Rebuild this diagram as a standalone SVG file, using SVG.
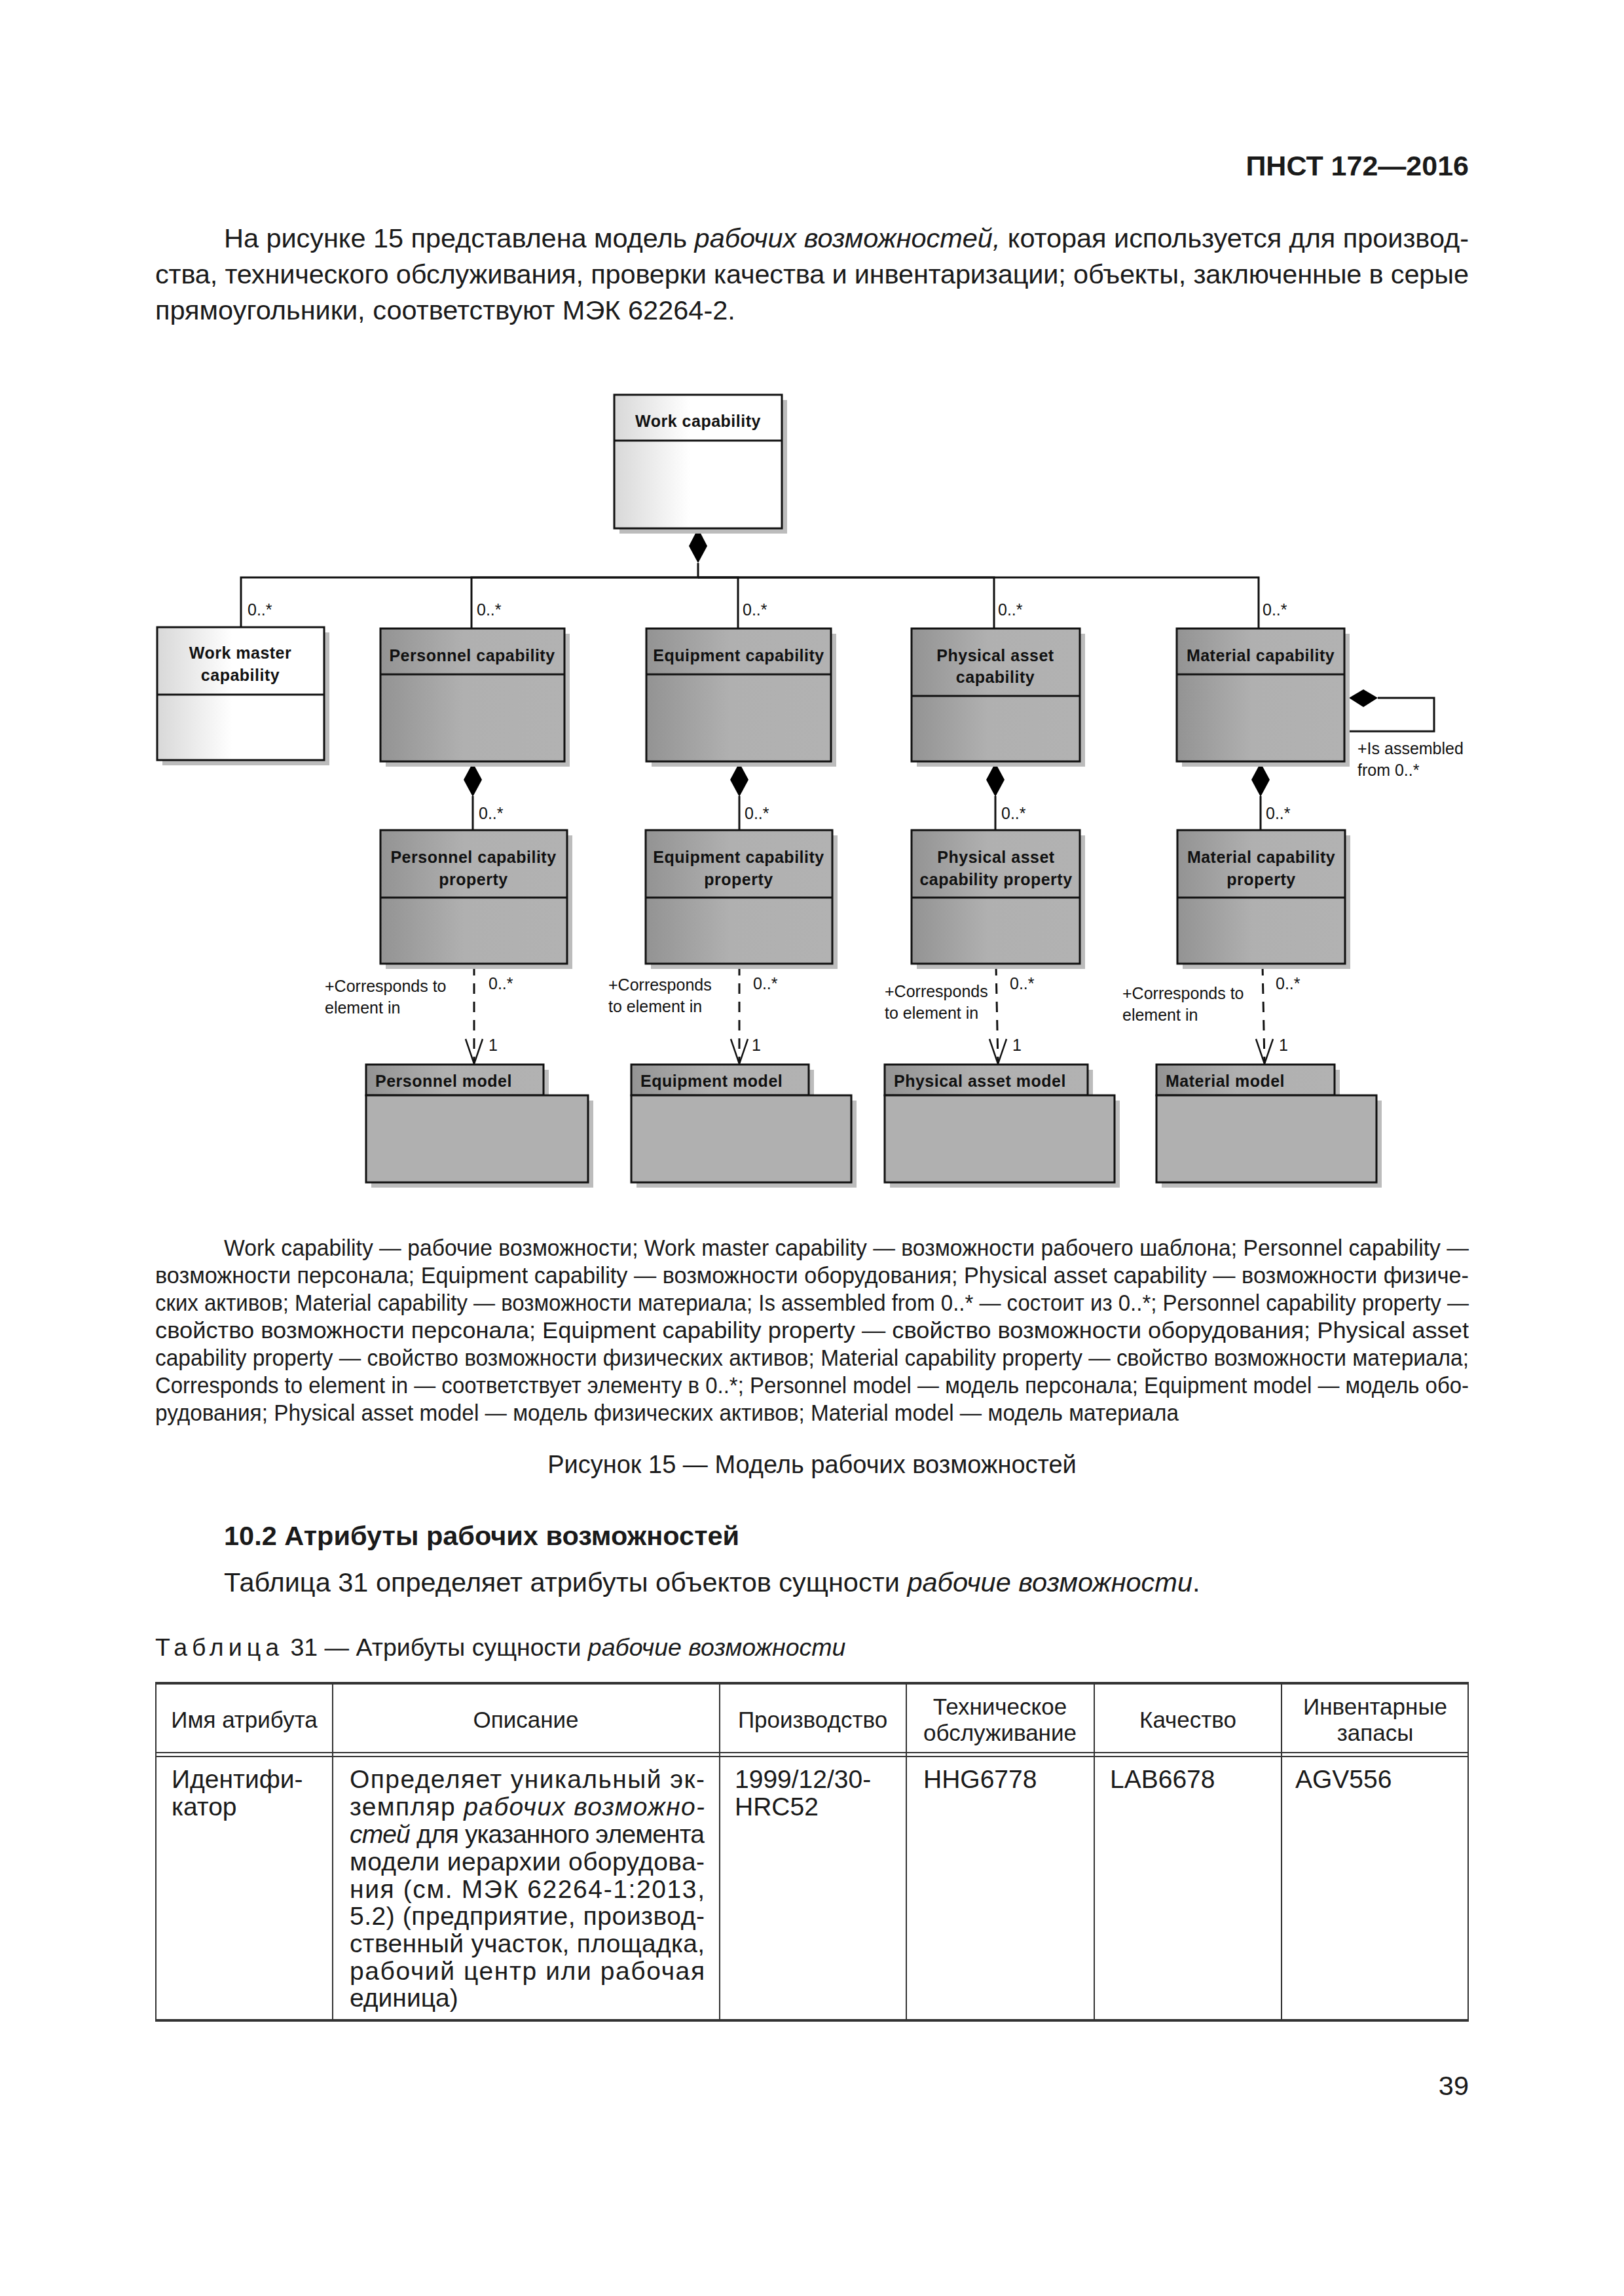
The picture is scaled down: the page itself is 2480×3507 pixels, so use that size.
<svg xmlns="http://www.w3.org/2000/svg" width="2480" height="3507" viewBox="0 0 2480 3507">
<defs>
<linearGradient id="gLight" x1="0" y1="0" x2="1" y2="0">
<stop offset="0" stop-color="#d8d8d8"/><stop offset="0.45" stop-color="#ffffff"/><stop offset="1" stop-color="#ffffff"/>
</linearGradient>
<linearGradient id="gGray" x1="0" y1="0" x2="1" y2="0">
<stop offset="0" stop-color="#939393"/><stop offset="0.45" stop-color="#b0b0b0"/><stop offset="1" stop-color="#b2b2b2"/>
</linearGradient>
</defs>
<style>
.t{font-family:"Liberation Sans",Arial,sans-serif;fill:#1a1a1a}
.body{font-size:41.5px}
.fig{font-size:38px}
.cap{font-size:35px}
.tcap{font-size:37.5px}
.th{font-size:35px}
.td{font-size:39px}
.it{font-style:italic}
.b{font-weight:bold}
.cn{font-family:"Liberation Sans",Arial,sans-serif;font-size:25px;font-weight:bold;fill:#111;letter-spacing:0.5px}
.lb{font-family:"Liberation Sans",Arial,sans-serif;font-size:25px;fill:#111}
.box{stroke:#111;stroke-width:3}
.sh{fill:#bcbcbc}
.ln{stroke:#111;stroke-width:3;fill:none}
.arr{stroke:#111;stroke-width:2.5;fill:none}
.dash{stroke:#111;stroke-width:3;fill:none;stroke-dasharray:16 12}
.dia{fill:#000}
.tl{stroke:#333;stroke-width:2;fill:none}
.tk{stroke:#333;stroke-width:4;fill:none}
</style>
<rect width="2480" height="3507" fill="#fff"/>

<!-- Page header -->
<text class="t b" x="2243" y="268" font-size="43" text-anchor="end">ПНСТ 172—2016</text>

<!-- Intro paragraph -->
<text class="t body" x="342" y="378" textLength="1901" lengthAdjust="spacing">На рисунке 15 представлена модель <tspan class="it">рабочих возможностей,</tspan> которая используется для производ-</text>
<text class="t body" x="237" y="433" textLength="2006" lengthAdjust="spacing">ства, технического обслуживания, проверки качества и инвентаризации; объекты, заключенные в серые</text>
<text class="t body" x="237" y="488">прямоугольники, соответствуют МЭК 62264-2.</text>

<!-- Connectors -->
<g id="connectors">
<path class="ln" d="M1066,860 V882 H368 V958"/>
<path class="ln" d="M1066,882 H720 V960"/>
<path class="ln" d="M1066,882 H1127 V960"/>
<path class="ln" d="M1066,882 H1518 V960"/>
<path class="ln" d="M1066,882 H1922 V960"/>
<polygon class="dia" points="1066,807 1080,834 1066,860 1052,834"/>
<text class="lb" x="378" y="940">0..*</text>
<text class="lb" x="728" y="940">0..*</text>
<text class="lb" x="1134" y="940">0..*</text>
<text class="lb" x="1524" y="940">0..*</text>
<text class="lb" x="1928" y="940">0..*</text>

<!-- composition to properties -->
<path class="ln" d="M722,1216 V1268"/>
<polygon class="dia" points="722,1165 736,1191 722,1217 708,1191"/>
<text class="lb" x="731" y="1251">0..*</text>
<path class="ln" d="M1129,1216 V1268"/>
<polygon class="dia" points="1129,1165 1143,1191 1129,1217 1115,1191"/>
<text class="lb" x="1137" y="1251">0..*</text>
<path class="ln" d="M1520,1216 V1268"/>
<polygon class="dia" points="1520,1165 1534,1191 1520,1217 1506,1191"/>
<text class="lb" x="1529" y="1251">0..*</text>
<path class="ln" d="M1925,1216 V1268"/>
<polygon class="dia" points="1925,1165 1939,1191 1925,1217 1911,1191"/>
<text class="lb" x="1933" y="1251">0..*</text>

<!-- self loop -->
<polygon class="dia" points="2060,1066 2082,1053 2104,1066 2082,1080"/>
<path class="ln" d="M2104,1066 H2190 V1117 H2060"/>
<text class="lb" x="2073" y="1152">+Is assembled</text>
<text class="lb" x="2073" y="1185">from 0..*</text>

<!-- dependencies -->
<path class="dash" d="M724,1474 V1624"/>
<path class="arr" d="M711,1587 L724,1625 L737,1587"/>
<text class="lb" x="746" y="1511">0..*</text>
<text class="lb" x="746" y="1605">1</text>
<text class="lb" x="496" y="1515">+Corresponds to</text>
<text class="lb" x="496" y="1548">element in</text>

<path class="dash" d="M1129,1474 V1624"/>
<path class="arr" d="M1116,1587 L1129,1625 L1142,1587"/>
<text class="lb" x="1150" y="1511">0..*</text>
<text class="lb" x="1148" y="1605">1</text>
<text class="lb" x="929" y="1513">+Corresponds</text>
<text class="lb" x="929" y="1546">to element in</text>

<path class="dash" d="M1521,1474 L1524,1624"/>
<path class="arr" d="M1511,1587 L1524,1625 L1537,1587"/>
<text class="lb" x="1542" y="1511">0..*</text>
<text class="lb" x="1546" y="1605">1</text>
<text class="lb" x="1351" y="1523">+Corresponds</text>
<text class="lb" x="1351" y="1556">to element in</text>

<path class="dash" d="M1928,1474 L1931,1624"/>
<path class="arr" d="M1918,1587 L1931,1625 L1944,1587"/>
<text class="lb" x="1948" y="1511">0..*</text>
<text class="lb" x="1953" y="1605">1</text>
<text class="lb" x="1714" y="1526">+Corresponds to</text>
<text class="lb" x="1714" y="1559">element in</text>
</g>

<!-- Nodes -->
<g id="work-capability">
<rect class="sh" x="946" y="611" width="256" height="204"/>
<rect class="box" x="938" y="603" width="256" height="204" fill="url(#gLight)"/>
<line class="box" x1="938" y1="673" x2="1194" y2="673"/>
<text class="cn" x="1066" y="652" text-anchor="middle">Work capability</text>
</g>

<g id="work-master-capability">
<rect class="sh" x="248" y="966" width="255" height="203"/>
<rect class="box" x="240" y="958" width="255" height="203" fill="url(#gLight)"/>
<line class="box" x1="240" y1="1061" x2="495" y2="1061"/>
<text class="cn" x="367" y="1006" text-anchor="middle">Work master</text>
<text class="cn" x="367" y="1040" text-anchor="middle">capability</text>
</g>

<g id="personnel-capability">
<rect class="sh" x="589" y="968" width="281" height="203"/>
<rect class="box" x="581" y="960" width="281" height="203" fill="url(#gGray)"/>
<line class="box" x1="581" y1="1030" x2="862" y2="1030"/>
<text class="cn" x="721" y="1010" text-anchor="middle">Personnel capability</text>
</g>

<g id="equipment-capability">
<rect class="sh" x="995" y="968" width="282" height="203"/>
<rect class="box" x="987" y="960" width="282" height="203" fill="url(#gGray)"/>
<line class="box" x1="987" y1="1030" x2="1269" y2="1030"/>
<text class="cn" x="1128" y="1010" text-anchor="middle">Equipment capability</text>
</g>

<g id="physical-asset-capability">
<rect class="sh" x="1400" y="968" width="257" height="203"/>
<rect class="box" x="1392" y="960" width="257" height="203" fill="url(#gGray)"/>
<line class="box" x1="1392" y1="1063" x2="1649" y2="1063"/>
<text class="cn" x="1520" y="1010" text-anchor="middle">Physical asset</text>
<text class="cn" x="1520" y="1043" text-anchor="middle">capability</text>
</g>

<g id="material-capability">
<rect class="sh" x="1805" y="968" width="256" height="203"/>
<rect class="box" x="1797" y="960" width="256" height="203" fill="url(#gGray)"/>
<line class="box" x1="1797" y1="1030" x2="2053" y2="1030"/>
<text class="cn" x="1925" y="1010" text-anchor="middle">Material capability</text>
</g>

<g id="personnel-capability-property">
<rect class="sh" x="589" y="1276" width="285" height="204"/>
<rect class="box" x="581" y="1268" width="285" height="204" fill="url(#gGray)"/>
<line class="box" x1="581" y1="1371" x2="866" y2="1371"/>
<text class="cn" x="723" y="1318" text-anchor="middle">Personnel capability</text>
<text class="cn" x="723" y="1352" text-anchor="middle">property</text>
</g>

<g id="equipment-capability-property">
<rect class="sh" x="994" y="1276" width="285" height="204"/>
<rect class="box" x="986" y="1268" width="285" height="204" fill="url(#gGray)"/>
<line class="box" x1="986" y1="1371" x2="1271" y2="1371"/>
<text class="cn" x="1128" y="1318" text-anchor="middle">Equipment capability</text>
<text class="cn" x="1128" y="1352" text-anchor="middle">property</text>
</g>

<g id="physical-asset-capability-property">
<rect class="sh" x="1400" y="1276" width="257" height="204"/>
<rect class="box" x="1392" y="1268" width="257" height="204" fill="url(#gGray)"/>
<line class="box" x1="1392" y1="1371" x2="1649" y2="1371"/>
<text class="cn" x="1521" y="1318" text-anchor="middle">Physical asset</text>
<text class="cn" x="1521" y="1352" text-anchor="middle">capability property</text>
</g>

<g id="material-capability-property">
<rect class="sh" x="1806" y="1276" width="256" height="204"/>
<rect class="box" x="1798" y="1268" width="256" height="204" fill="url(#gGray)"/>
<line class="box" x1="1798" y1="1371" x2="2054" y2="1371"/>
<text class="cn" x="1926" y="1318" text-anchor="middle">Material capability</text>
<text class="cn" x="1926" y="1352" text-anchor="middle">property</text>
</g>

<g id="personnel-model">
<rect class="sh" x="567" y="1634" width="271" height="47"/>
<rect class="sh" x="567" y="1681" width="339" height="133"/>
<rect class="box" x="559" y="1626" width="271" height="47" fill="url(#gGray)"/>
<rect class="box" x="559" y="1673" width="339" height="133" fill="#b0b0b0"/>
<text class="cn" x="573" y="1660">Personnel model</text>
</g>

<g id="equipment-model">
<rect class="sh" x="972" y="1634" width="271" height="47"/>
<rect class="sh" x="972" y="1681" width="336" height="133"/>
<rect class="box" x="964" y="1626" width="271" height="47" fill="url(#gGray)"/>
<rect class="box" x="964" y="1673" width="336" height="133" fill="#b0b0b0"/>
<text class="cn" x="978" y="1660">Equipment model</text>
</g>

<g id="physical-asset-model">
<rect class="sh" x="1359" y="1634" width="310" height="47"/>
<rect class="sh" x="1359" y="1681" width="351" height="133"/>
<rect class="box" x="1351" y="1626" width="310" height="47" fill="url(#gGray)"/>
<rect class="box" x="1351" y="1673" width="351" height="133" fill="#b0b0b0"/>
<text class="cn" x="1365" y="1660">Physical asset model</text>
</g>

<g id="material-model">
<rect class="sh" x="1774" y="1634" width="272" height="47"/>
<rect class="sh" x="1774" y="1681" width="336" height="133"/>
<rect class="box" x="1766" y="1626" width="272" height="47" fill="url(#gGray)"/>
<rect class="box" x="1766" y="1673" width="336" height="133" fill="#b0b0b0"/>
<text class="cn" x="1780" y="1660">Material model</text>
</g>

<!-- Legend -->
<text class="t cap" x="342" y="1918" textLength="1901" lengthAdjust="spacingAndGlyphs">Work capability — рабочие возможности; Work master capability — возможности рабочего шаблона; Personnel capability —</text>
<text class="t cap" x="237" y="1960" textLength="2006" lengthAdjust="spacingAndGlyphs">возможности персонала; Equipment capability — возможности оборудования; Physical asset capability — возможности физиче-</text>
<text class="t cap" x="237" y="2002" textLength="2006" lengthAdjust="spacingAndGlyphs">ских активов; Material capability — возможности материала; Is assembled from 0..* — состоит из 0..*; Personnel capability property —</text>
<text class="t cap" x="237" y="2044" textLength="2006" lengthAdjust="spacingAndGlyphs">свойство возможности персонала; Equipment capability property — свойство возможности оборудования; Physical asset</text>
<text class="t cap" x="237" y="2086" textLength="2006" lengthAdjust="spacingAndGlyphs">capability property — свойство возможности физических активов; Material capability property — свойство возможности материала;</text>
<text class="t cap" x="237" y="2128" textLength="2006" lengthAdjust="spacingAndGlyphs">Corresponds to element in — соответствует элементу в 0..*; Personnel model — модель персонала; Equipment model — модель обо-</text>
<text class="t cap" x="237" y="2170" textLength="1563" lengthAdjust="spacingAndGlyphs">рудования; Physical asset model — модель физических активов; Material model — модель материала</text>

<text class="t fig" x="1240" y="2250" text-anchor="middle">Рисунок 15 — Модель рабочих возможностей</text>

<text class="t body b" x="342" y="2360">10.2 Атрибуты рабочих возможностей</text>
<text class="t body" x="342" y="2431">Таблица 31 определяет атрибуты объектов сущности <tspan class="it">рабочие возможности</tspan>.</text>
<text class="t tcap" x="237" y="2529"><tspan letter-spacing="7">Таблица</tspan>  31 — Атрибуты сущности <tspan class="it">рабочие возможности</tspan></text>

<!-- Table -->
<g id="table">
<line class="tk" x1="237" y1="2571" x2="2243" y2="2571"/>
<line class="tl" x1="237" y1="2677" x2="2243" y2="2677"/>
<line class="tl" x1="237" y1="2683" x2="2243" y2="2683"/>
<line class="tk" x1="237" y1="3086" x2="2243" y2="3086"/>
<line class="tl" x1="238" y1="2571" x2="238" y2="3086"/>
<line class="tl" x1="2242" y1="2571" x2="2242" y2="3086"/>
<line class="tl" x1="508" y1="2571" x2="508" y2="3086"/>
<line class="tl" x1="1099" y1="2571" x2="1099" y2="3086"/>
<line class="tl" x1="1384" y1="2571" x2="1384" y2="3086"/>
<line class="tl" x1="1671" y1="2571" x2="1671" y2="3086"/>
<line class="tl" x1="1957" y1="2571" x2="1957" y2="3086"/>

<text class="t th" x="373" y="2639" text-anchor="middle">Имя атрибута</text>
<text class="t th" x="803" y="2639" text-anchor="middle">Описание</text>
<text class="t th" x="1241" y="2639" text-anchor="middle">Производство</text>
<text class="t th" x="1527" y="2619" text-anchor="middle">Техническое</text>
<text class="t th" x="1527" y="2659" text-anchor="middle">обслуживание</text>
<text class="t th" x="1814" y="2639" text-anchor="middle">Качество</text>
<text class="t th" x="2100" y="2619" text-anchor="middle">Инвентарные</text>
<text class="t th" x="2100" y="2659" text-anchor="middle">запасы</text>

<text class="t td" x="262" y="2731">Идентифи-</text>
<text class="t td" x="262" y="2773">катор</text>

<text class="t td" x="534" y="2731" textLength="542" lengthAdjust="spacing">Определяет уникальный эк-</text>
<text class="t td" x="534" y="2773" textLength="542" lengthAdjust="spacing">земпляр <tspan class="it">рабочих возможно-</tspan></text>
<text class="t td" x="534" y="2815" textLength="542" lengthAdjust="spacing"><tspan class="it">стей</tspan> для указанного элемента</text>
<text class="t td" x="534" y="2857" textLength="542" lengthAdjust="spacing">модели иерархии оборудова-</text>
<text class="t td" x="534" y="2899" textLength="542" lengthAdjust="spacing">ния (см. МЭК 62264-1:2013,</text>
<text class="t td" x="534" y="2940" textLength="542" lengthAdjust="spacing">5.2) (предприятие, производ-</text>
<text class="t td" x="534" y="2982" textLength="542" lengthAdjust="spacing">ственный участок, площадка,</text>
<text class="t td" x="534" y="3024" textLength="542" lengthAdjust="spacing">рабочий центр или рабочая</text>
<text class="t td" x="534" y="3065">единица)</text>

<text class="t td" x="1122" y="2731">1999/12/30-</text>
<text class="t td" x="1122" y="2773">HRC52</text>
<text class="t td" x="1410" y="2731">HHG6778</text>
<text class="t td" x="1695" y="2731">LAB6678</text>
<text class="t td" x="1978" y="2731">AGV556</text>
</g>

<text class="t body" x="2243" y="3200" text-anchor="end">39</text>
</svg>
